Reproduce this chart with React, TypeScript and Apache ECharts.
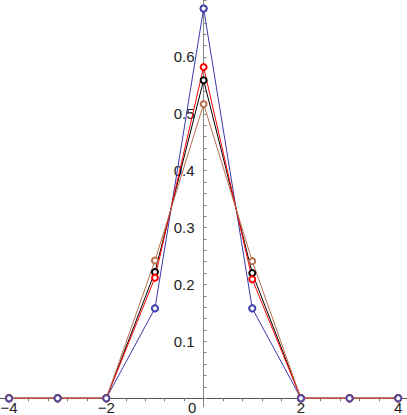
import React, { useEffect, useRef } from "react";
import * as echarts from "echarts";

const xValues = [-4, -3, -2, -1, 0, 1, 2, 3, 4];
const blueSeries = [0, 0, 0, 0.158, 0.685, 0.158, 0, 0, 0];
const blackSeries = [0, 0, 0, 0.222, 0.559, 0.22, 0, 0, 0];
const redSeries = [0, 0, 0, 0.212, 0.582, 0.209, 0, 0, 0];
const brownSeries = [0, 0, 0, 0.242, 0.517, 0.241, 0, 0, 0];
const xLabelValues = [-4, -2, 0, 2, 4];
const yLabelValues = [0.1, 0.2, 0.3, 0.4, 0.5, 0.6];

const FONT = "'Liberation Sans', Arial, Helvetica, sans-serif";
const X_MIN = -4.185;
const X_MAX = 4.18;
const Y_MIN = -0.015;
const Y_MAX = 0.7;
const WIDTH = 407;
const HEIGHT = 415;
const GRID_BOTTOM = 8.2;

function pairs(ys: number[]) {
  return xValues.map((x, i) => [x, ys[i]]);
}

function range(start: number, end: number, step: number) {
  const out: number[] = [];
  const n = Math.round((end - start) / step);
  for (let i = 0; i <= n; i++) out.push(Number((start + i * step).toFixed(4)));
  return out;
}

export default function App() {
  const ref = useRef<HTMLDivElement>(null);
  useEffect(() => {
    if (!ref.current) return;
    const chart = echarts.init(ref.current, undefined, { renderer: "svg" });
    const lineSeries = (name: string, data: number[], color: string) => ({
      name,
      type: "line",
      data: pairs(data),
      symbol: "emptyCircle",
      symbolSize: 6,
      showSymbol: true,
      lineStyle: { color, width: 1 },
      itemStyle: { color, borderColor: color, borderWidth: 0.8 },
      emphasis: { disabled: true },
    });
    // axes sit where the other axis is 0, measured inward from the grid edges
    const yAxisOffset = -((0 - X_MIN) / (X_MAX - X_MIN)) * WIDTH;
    const gridH = HEIGHT - GRID_BOTTOM;
    const xAxisOffset = -((0 - Y_MIN) / (Y_MAX - Y_MIN)) * gridH;
    chart.setOption({
      animation: false,
      backgroundColor: "#ffffff",
      grid: {
        left: 0,
        right: 0,
        top: 0,
        bottom: GRID_BOTTOM,
        containLabel: false,
        outerBoundsMode: "none",
      },
      xAxis: {
        type: "value",
        min: X_MIN,
        max: X_MAX,
        position: "bottom",
        offset: xAxisOffset,
        splitLine: { show: false },
        axisLine: { show: true, onZero: false, lineStyle: { color: "#555555", width: 1 } },
        axisTick: {
          show: true,
          length: 3,
          inside: false,
          customValues: range(-4, 4, 0.4),
          lineStyle: { color: "#777777" },
        },
        axisLabel: {
          show: true,
          customValues: xLabelValues,
          margin: 2,
          color: "#222222",
          fontFamily: FONT,
          fontSize: 15,
          lineHeight: 14,
          hideOverlap: false,
          formatter: (v: number) => {
            if (v === 0) return "{z|0}";
            return v < 0 ? "\u2212" + Math.abs(v) : String(v);
          },
          rich: {
            z: {
              padding: [0, 23, 0, 0],
              fontFamily: FONT,
              fontSize: 15,
              lineHeight: 14,
              color: "#222222",
            },
          },
        },
      },
      yAxis: {
        type: "value",
        min: Y_MIN,
        max: Y_MAX,
        position: "left",
        offset: yAxisOffset,
        splitLine: { show: false },
        axisLine: { show: true, onZero: false, lineStyle: { color: "#888888", width: 1 } },
        axisTick: {
          show: true,
          inside: true,
          length: 3,
          customValues: range(0, 0.7, 0.02),
          lineStyle: { color: "#888888" },
        },
        axisLabel: {
          show: true,
          customValues: yLabelValues,
          margin: 9,
          color: "#222222",
          fontFamily: FONT,
          fontSize: 15,
          formatter: (v: number) => v.toFixed(1),
        },
      },
      series: [
        lineSeries("blue", blueSeries, "#3a3aa8"),
        lineSeries("black", blackSeries, "#000000"),
        lineSeries("red", redSeries, "#ff0000"),
        lineSeries("brown", brownSeries, "#b8704e"),
        {
          name: "blueMarkers",
          type: "scatter",
          data: pairs(blueSeries),
          symbol: "emptyCircle",
          symbolSize: 6,
          z: 3,
          itemStyle: { color: "#3a3aa8", borderColor: "#3a3aa8", borderWidth: 0.8 },
          emphasis: { disabled: true },
        },
      ],
    });
    return () => chart.dispose();
  }, []);
  return (
    <div
      ref={ref}
      style={{ position: "absolute", left: 0, top: 0, width: WIDTH, height: HEIGHT, background: "#fff" }}
    />
  );
}
